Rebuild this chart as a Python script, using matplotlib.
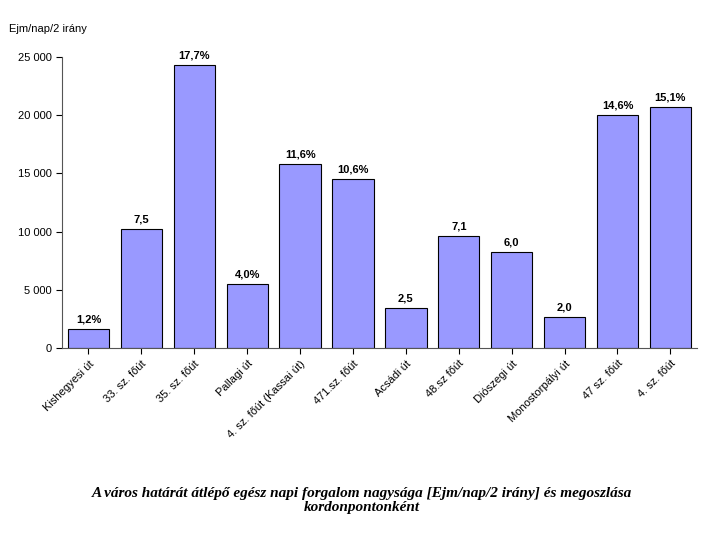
import matplotlib.pyplot as plt
from matplotlib.ticker import FuncFormatter

categories = ["Kishegyesi út", "33. sz. főút", "35. sz. főút", "Pallagi út",
              "4. sz. főút (Kassai út)", "471.sz. főút", "Acsádi út", "48.sz főút",
              "Diószegi út", "Monostorpályi út", "47 sz. főút", "4. sz. főút"]
values = [1650, 10200, 24300, 5500, 15800, 14500, 3450, 9600, 8250, 2650, 20000, 20700]
bar_labels = ["1,2%", "7,5", "17,7%", "4,0%", "11,6%", "10,6%", "2,5", "7,1",
              "6,0", "2,0", "14,6%", "15,1%"]

plt.rcParams["font.family"] = "Liberation Sans"
fig = plt.figure(figsize=(7.23, 5.38), dpi=100)
ax = fig.add_axes([0.0858, 0.353, 0.878, 0.541])

x = range(len(categories))
ax.bar(x, values, width=0.78, color="#9999FF", edgecolor="black", linewidth=0.8)
for i, (v, lab) in enumerate(zip(values, bar_labels)):
    ax.text(i, v + 400, lab, ha="center", va="bottom", fontsize=8, fontweight="bold")

ax.set_xlim(-0.5, len(categories) - 0.5)
ax.set_ylim(0, 25000)
ax.set_yticks(range(0, 25001, 5000))
ax.yaxis.set_major_formatter(FuncFormatter(lambda v, p: f"{int(v):,}".replace(",", " ")))
ax.set_xticks(list(x))
ax.set_xticklabels(categories, rotation=45, ha="right", rotation_mode="anchor", fontsize=8)
ax.tick_params(axis="y", labelsize=8, direction="out", length=4)
ax.tick_params(axis="x", length=4, direction="out")
ax.spines["top"].set_visible(False)
ax.spines["right"].set_visible(False)
ax.spines["left"].set_color("#555555")
ax.spines["bottom"].set_color("#555555")

fig.text(0.012, 0.94, "Ejm/nap/2 irány", fontsize=8)
fig.text(0.5, 0.07, "A város határát átlépő egész napi forgalom nagysága [Ejm/nap/2 irány] és megoszlása\nkordonpontonként",
         ha="center", va="center", fontsize=11, fontweight="bold", fontstyle="italic",
         family="Liberation Serif", linespacing=1.1)

fig.savefig("out.png", dpi=100)
